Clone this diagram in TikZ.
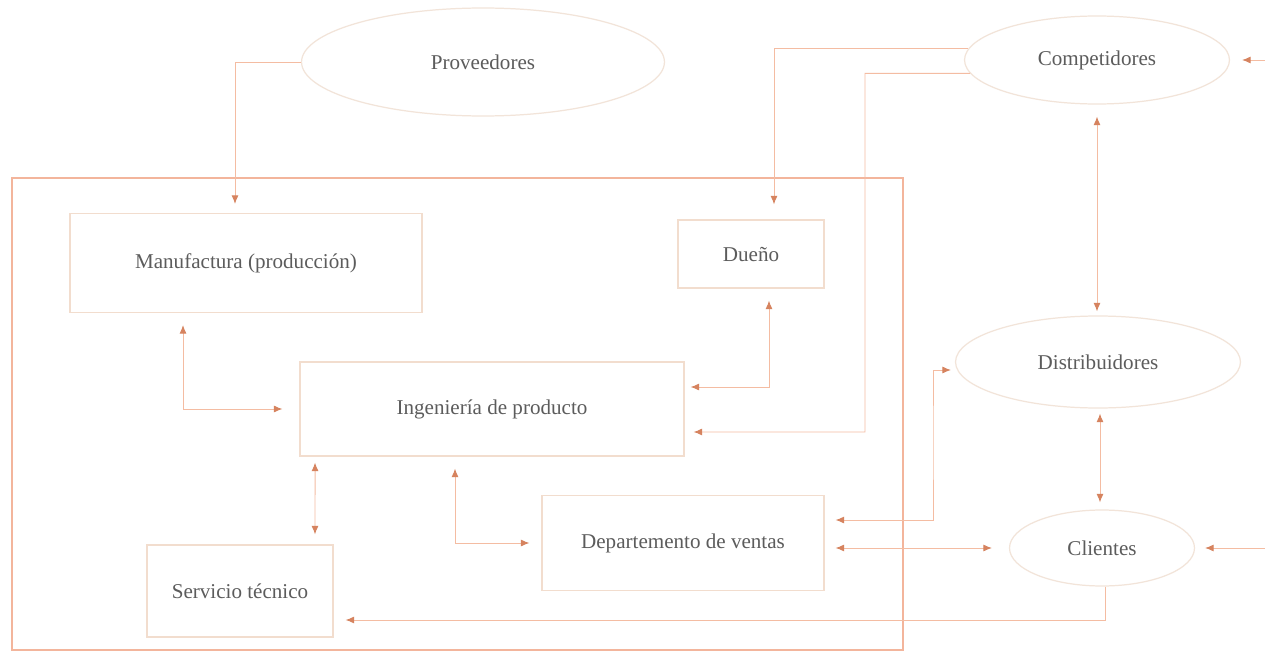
\documentclass[tikz,border=0pt]{standalone}
\usepackage{fontspec}
\setmainfont{Liberation Serif}
\usetikzlibrary{arrows.meta,shapes.geometric}

\definecolor{linkc}{HTML}{F4BCA2}
\definecolor{tipc}{HTML}{D6835F}
\definecolor{boxc}{HTML}{F2DDCE}
\definecolor{ovalc}{HTML}{F2E4D9}
\definecolor{framec}{HTML}{F3B59C}
\definecolor{textc}{HTML}{5C5C5C}

\begin{document}
\begin{tikzpicture}[x=0.02cm,y=-0.02cm]
\tikzset{
  procbox/.style={rectangle,draw=boxc,line width=0.7pt,inner sep=2pt,text=textc,font=\fontsize{12}{14}\selectfont},
  actor/.style={ellipse,draw=ovalc,line width=0.7pt,inner sep=0pt,text=textc,font=\fontsize{12}{14}\selectfont},
  link/.style={draw=linkc,line width=0.55pt,-{Latex[length=1.7mm,width=1.4mm,color=tipc]}},
  both/.style={draw=linkc,line width=0.55pt,{Latex[length=1.7mm,width=1.4mm,color=tipc]}-{Latex[length=1.7mm,width=1.4mm,color=tipc]}}
}
\useasboundingbox (0,0) rectangle (1265,652);
\fill[white] (0,0) rectangle (1265,652);
\draw[framec,line width=0.8pt] (12,178) rectangle (903,650);
\node[actor,minimum width=7.26cm,minimum height=2.16cm] (n_Prov) at (483,62) {Proveedores};
\node[actor,minimum width=5.3cm,minimum height=1.76cm] (n_Comp) at (1097,60) {Competidores};
\node[actor,minimum width=5.7cm,minimum height=1.84cm] (n_Dist) at (1098,362) {Distribuidores};
\node[actor,minimum width=3.7cm,minimum height=1.52cm] (n_Clie) at (1102,548) {Clientes};
\node[procbox,minimum width=7.04cm,minimum height=1.98cm] (n_Manu) at (246,263) {Manufactura (producción)};
\node[procbox,minimum width=2.92cm,minimum height=1.36cm] (n_Duen) at (751,254) {Dueño};
\node[procbox,minimum width=7.68cm,minimum height=1.88cm] (n_Inge) at (492,409) {Ingeniería de producto};
\node[procbox,minimum width=5.64cm,minimum height=1.9cm] (n_Vent) at (683,543) {Departemento de ventas};
\node[procbox,minimum width=3.72cm,minimum height=1.84cm] (n_Serv) at (240,591) {Servicio técnico};
\coordinate (k_Comp) at (865,432);
\coordinate (k_Dist) at (933,440);
\coordinate (e_Comp) at (1265,60);
\coordinate (e_Clie) at (1265,548);
\draw[link,shorten >=0.18cm] (n_Prov.west) -| ([xshift=-0.22cm]n_Manu.north);
\draw[link,shorten >=0.3cm] (n_Comp.175) -| ([xshift=0.46cm]n_Duen.north);
\draw[link,shorten >=0.18cm] (n_Comp.186) -| (k_Comp) -- ([yshift=-0.46cm]n_Inge.east);
\draw[both,shorten <=0.24cm,shorten >=0.12cm] ([xshift=0.36cm]n_Duen.south) |- ([yshift=0.44cm]n_Inge.east);
\draw[both,shorten <=0.24cm,shorten >=0.34cm] ([xshift=-1.26cm]n_Manu.south) |- (n_Inge.west);
\draw[both,shorten <=0.12cm,shorten >=0.2cm] ([xshift=-3.54cm]n_Inge.south) -- ([xshift=1.5cm]n_Serv.north);
\draw[both,shorten <=0.24cm,shorten >=0.24cm] ([xshift=-0.74cm]n_Inge.south) |- (n_Vent.west);
\draw[both,shorten <=0.22cm,shorten >=0.08cm] ([yshift=0.46cm]n_Vent.east) -| (k_Dist) |- ([yshift=-0.16cm]n_Dist.west);
\draw[both,shorten <=0.22cm,shorten >=0.34cm] (n_Vent.east |- n_Clie.west) -- (n_Clie.west);
\draw[both,shorten <=0.24cm,shorten >=0.08cm] (n_Comp.south) -- (n_Comp.south |- n_Dist.north);
\draw[both,shorten <=0.1cm,shorten >=0.14cm] ([xshift=0.04cm]n_Dist.south) -- ([xshift=0.04cm]n_Dist.south |- n_Clie.north);
\draw[link,shorten >=0.24cm] ([xshift=0.06cm]n_Clie.south) |- ([yshift=-0.58cm]n_Serv.east);
\draw[link,shorten >=0.24cm] (e_Comp) -- (n_Comp.east);
\draw[link,shorten >=0.2cm] (e_Clie) -- (n_Clie.east);
\end{tikzpicture}
\end{document}
